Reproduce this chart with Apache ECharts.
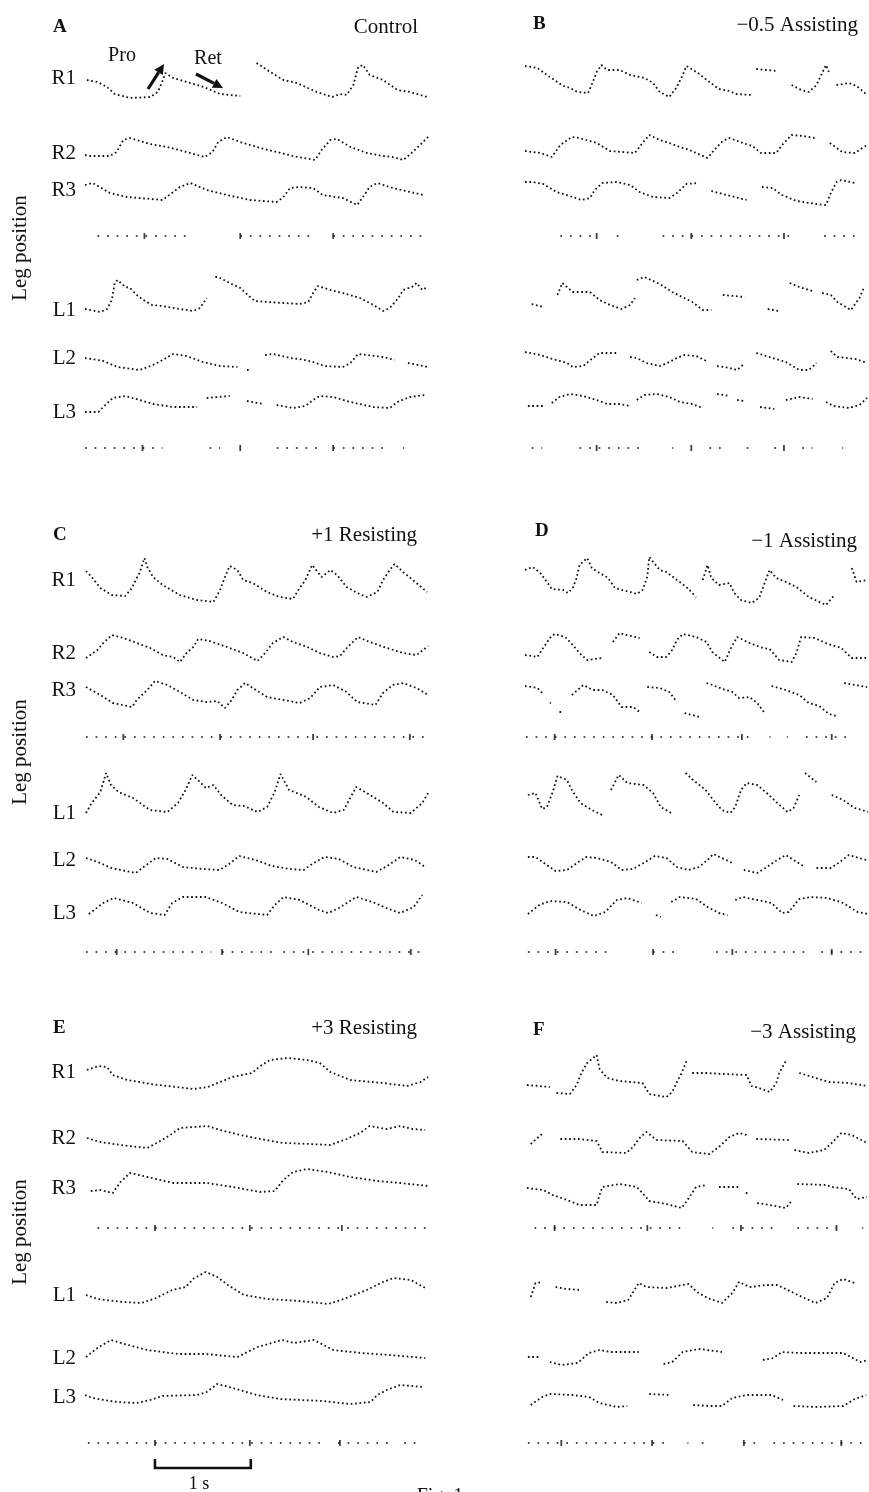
<!DOCTYPE html>
<html>
<head>
<meta charset="utf-8">
<script src="https://cdn.jsdelivr.net/npm/echarts/dist/echarts.min.js"></script>
<style>
  html, body { margin: 0; padding: 0; background: #ffffff; }
  #chart { width: 869px; height: 1492px; }
</style>
</head>
<body>
<div id="chart"></div>
<script>
// ---- Leg position traces: [time (s), position (a.u., up = positive)], null = tracking gap ----
// A  Control
const A_R1 = [[0.02,-2],[0.13,-4],[0.23,-9],[0.31,-16],[0.47,-20],[0.68,-19],[0.76,-14],[0.80,-5],[0.84,5],[0.92,0],[1.10,-5],[1.24,-9],[1.41,-16],[1.62,-18],null,[1.79,15],[1.90,8],[2.07,-2],[2.21,-5],[2.42,-14],[2.58,-19],[2.66,-16],[2.73,-17],[2.80,-7],[2.85,11],[2.90,13],[2.97,3],[3.11,-2],[3.26,-12],[3.39,-14],[3.57,-19]];
const A_R2 = [[0.00,-2],[0.05,-3],[0.26,-3],[0.33,1],[0.40,13],[0.47,15],[0.68,9],[0.86,6],[1.06,1],[1.25,-4],[1.33,1],[1.39,11],[1.48,16],[1.62,11],[1.83,5],[2.00,1],[2.17,-3],[2.40,-7],[2.47,3],[2.56,13],[2.63,14],[2.77,6],[2.94,0],[3.11,-3],[3.21,-4],[3.32,-7],[3.42,1],[3.58,16]];
const A_R3 = [[0.00,5],[0.08,7],[0.26,-3],[0.44,-7],[0.81,-10],[0.99,3],[1.10,7],[1.27,0],[1.48,-5],[1.72,-10],[2.00,-12],[2.07,-7],[2.14,2],[2.24,3],[2.38,2],[2.48,-5],[2.69,-8],[2.84,-15],[2.90,-7],[2.97,3],[3.05,7],[3.21,2],[3.53,-5]];
const A_L1 = [[0.00,1],[0.16,-2],[0.23,1],[0.28,10],[0.31,27],[0.34,30],[0.42,23],[0.47,22],[0.54,15],[0.61,10],[0.70,5],[0.81,4],[0.99,1],[1.13,-1],[1.20,2],[1.27,12],null,[1.36,33],[1.39,33],[1.51,27],[1.62,22],[1.70,15],[1.77,9],[1.90,8],[2.07,7],[2.24,6],[2.33,8],[2.38,17],[2.43,24],[2.56,20],[2.69,17],[2.87,12],[3.01,5],[3.11,-1],[3.18,2],[3.27,12],[3.32,20],[3.41,23],[3.46,27],[3.52,20],[3.57,23]];
const A_L2 = [[0.00,0],[0.19,-3],[0.34,-9],[0.57,-12],[0.71,-7],[0.81,-2],[0.92,4],[1.06,2],[1.23,-4],[1.41,-8],[1.59,-9],null,[1.69,-12],[1.71,-12],null,[1.88,3],[1.96,4],[2.14,0],[2.24,-1],[2.38,-4],[2.50,-8],[2.69,-9],[2.77,-5],[2.85,4],[2.94,3],[3.11,1],[3.23,-2],null,[3.37,-5],[3.58,-9]];
const A_L3 = [[0.00,0],[0.14,0],[0.19,5],[0.29,14],[0.42,16],[0.57,12],[0.71,8],[0.92,5],[1.17,5],null,[1.27,14],[1.51,16],null,[1.69,11],[1.86,8],null,[2.00,7],[2.17,4],[2.30,6],[2.38,12],[2.45,16],[2.59,15],[2.77,10],[3.01,5],[3.18,4],[3.26,10],[3.39,15],[3.55,17]];
// B  -0.5 Assisting
const B_R1 = [[0.00,12],[0.13,10],[0.26,1],[0.40,-8],[0.47,-10],[0.55,-14],[0.66,-15],[0.71,-4],[0.75,6],[0.80,13],[0.86,8],[0.99,8],[1.10,3],[1.25,0],[1.34,-5],[1.41,-14],[1.51,-19],[1.59,-9],[1.64,1],[1.69,12],[1.81,5],[1.93,-4],[2.03,-11],[2.14,-13],[2.21,-16],[2.37,-17],null,[2.42,9],[2.64,7],null,[2.79,-7],[2.89,-12],[2.97,-14],[3.05,-7],[3.10,3],[3.15,13],[3.18,6],null,[3.26,-7],[3.39,-5],[3.47,-8],[3.58,-17]];
const B_R2 = [[0.00,2],[0.16,0],[0.28,-4],[0.37,8],[0.49,16],[0.57,15],[0.75,10],[0.89,2],[1.15,0],[1.23,10],[1.30,18],[1.41,13],[1.51,10],[1.62,6],[1.72,3],[1.91,-5],[1.98,3],[2.07,12],[2.14,15],[2.28,10],[2.38,7],[2.47,0],[2.63,0],[2.69,8],[2.79,18],[2.91,17],[3.03,15],null,[3.19,10],[3.32,1],[3.45,0],[3.58,8]];
const B_R3 = [[0.00,8],[0.08,8],[0.19,6],[0.33,-2],[0.50,-7],[0.59,-10],[0.68,-8],[0.73,0],[0.81,7],[0.96,8],[1.10,5],[1.20,-2],[1.34,-7],[1.51,-8],[1.59,-3],[1.69,6],[1.81,7],null,[1.95,-1],[2.11,-5],[2.32,-10],null,[2.48,3],[2.59,2],[2.69,-5],[2.84,-11],[3.05,-14],[3.15,-15],[3.20,-3],[3.26,8],[3.31,10],[3.45,7]];
const B_L1 = [[0.07,6],[0.19,3],null,[0.34,15],[0.39,27],[0.50,18],[0.68,18],[0.78,10],[0.89,5],[1.01,1],[1.10,5],[1.15,12],null,[1.17,30],[1.25,33],[1.41,26],[1.54,18],[1.75,8],[1.86,0],[1.95,0],null,[2.07,15],[2.30,13],null,[2.54,1],[2.66,-1],null,[2.77,27],[2.87,23],[3.01,19],null,[3.11,17],[3.20,15],[3.27,8],[3.41,0],[3.50,12],[3.55,23]];
const B_L2 = [[0.00,6],[0.16,3],[0.29,-1],[0.44,-5],[0.50,-9],[0.61,-8],[0.71,0],[0.78,5],[0.97,5],null,[1.10,1],[1.17,0],[1.27,-5],[1.41,-8],[1.49,-5],[1.59,0],[1.67,3],[1.79,2],[1.90,-3],null,[2.01,-8],[2.14,-10],[2.22,-12],[2.30,-5],null,[2.42,5],[2.56,1],[2.73,-4],[2.87,-12],[2.97,-12],[3.05,-5],null,[3.20,7],[3.27,1],[3.46,-1],[3.58,-5]];
const B_L3 = [[0.03,6],[0.19,6],null,[0.28,9],[0.36,15],[0.47,18],[0.61,16],[0.75,12],[0.86,8],[0.99,8],[1.10,6],null,[1.17,12],[1.25,17],[1.38,18],[1.51,15],[1.62,10],[1.75,8],[1.86,4],null,[2.01,18],[2.14,16],null,[2.22,12],[2.30,11],null,[2.46,5],[2.61,3],null,[2.73,12],[2.87,15],[3.01,13],null,[3.15,10],[3.23,6],[3.39,4],[3.50,7],[3.58,14]];
// C  +1 Resisting
const C_R1 = [[0.01,9],[0.07,3],[0.16,-8],[0.28,-15],[0.42,-16],[0.49,-8],[0.54,2],[0.57,7],[0.62,22],[0.65,13],[0.71,3],[0.81,-5],[0.99,-15],[1.17,-20],[1.34,-22],[1.41,-10],[1.46,3],[1.51,14],[1.59,10],[1.65,0],[1.75,-3],[1.90,-12],[2.03,-17],[2.17,-19],[2.24,-8],[2.30,0],[2.37,15],[2.47,3],[2.56,10],[2.63,5],[2.73,-7],[2.84,-13],[2.94,-17],[3.05,-12],[3.11,0],[3.18,10],[3.23,16],[3.32,8],[3.42,0],[3.57,-12]];
const C_R2 = [[0.01,-5],[0.13,3],[0.19,10],[0.28,18],[0.40,15],[0.54,10],[0.68,5],[0.81,-2],[0.92,-4],[0.99,-9],[1.06,0],[1.13,6],[1.18,14],[1.30,12],[1.48,6],[1.65,0],[1.80,-8],[1.88,0],[1.96,10],[2.07,16],[2.17,11],[2.32,6],[2.45,0],[2.59,-4],[2.66,-3],[2.74,6],[2.85,16],[2.97,11],[3.15,5],[3.32,0],[3.46,-2],[3.58,7]];
const C_R3 = [[0.01,3],[0.16,-5],[0.29,-13],[0.49,-17],[0.54,-10],[0.65,0],[0.73,9],[0.86,5],[0.99,-2],[1.13,-10],[1.27,-12],[1.38,-11],[1.46,-18],[1.53,-10],[1.59,0],[1.67,7],[1.75,2],[1.90,-7],[2.07,-10],[2.24,-13],[2.35,-8],[2.45,3],[2.59,5],[2.73,-2],[2.84,-12],[3.03,-15],[3.11,-3],[3.21,5],[3.32,7],[3.46,2],[3.58,-5]];
const C_L1 = [[0.01,0],[0.07,10],[0.16,21],[0.22,40],[0.27,28],[0.35,21],[0.50,15],[0.68,3],[0.86,1],[0.97,10],[1.05,23],[1.12,38],[1.20,31],[1.26,25],[1.34,28],[1.42,18],[1.54,8],[1.66,7],[1.80,1],[1.90,6],[1.98,21],[2.04,39],[2.13,23],[2.31,16],[2.44,6],[2.59,0],[2.70,3],[2.83,26],[2.94,20],[3.11,10],[3.22,1],[3.40,0],[3.52,10],[3.58,20]];
const C_L2 = [[0.01,2],[0.16,-3],[0.27,-8],[0.53,-13],[0.61,-7],[0.74,2],[0.86,1],[1.02,-7],[1.23,-9],[1.40,-10],[1.49,-5],[1.61,4],[1.78,0],[1.95,-6],[2.13,-9],[2.28,-10],[2.37,-4],[2.50,3],[2.65,1],[2.80,-7],[3.04,-12],[3.17,-5],[3.29,3],[3.44,0],[3.55,-7]];
const C_L3 = [[0.04,-1],[0.19,10],[0.30,15],[0.50,10],[0.68,0],[0.83,-2],[0.91,10],[1.02,16],[1.26,16],[1.43,10],[1.61,1],[1.90,-2],[1.98,8],[2.07,16],[2.24,13],[2.44,3],[2.54,0],[2.65,5],[2.83,16],[3.00,11],[3.17,4],[3.29,0],[3.43,6],[3.52,18]];
// D  -1 Assisting
const D_R1 = [[0.00,10],[0.08,13],[0.16,7],[0.23,-2],[0.28,-9],[0.40,-10],[0.45,-13],[0.50,-8],[0.54,2],[0.57,15],[0.65,22],[0.70,12],[0.78,7],[0.87,2],[0.94,-8],[1.01,-10],[1.10,-12],[1.17,-14],[1.23,-10],[1.28,3],[1.30,23],[1.41,10],[1.48,8],[1.59,0],[1.69,-7],[1.79,-17],null,[1.86,0],[1.91,15],[1.95,2],[2.03,-5],[2.14,-3],[2.19,-13],[2.26,-20],[2.37,-23],[2.45,-18],[2.50,-5],[2.56,10],[2.63,2],[2.73,-2],[2.84,-7],[2.97,-17],[3.15,-25],[3.23,-16],null,[3.42,12],[3.47,-2],[3.58,0]];
const D_R2 = [[0.00,-2],[0.13,-4],[0.19,5],[0.26,15],[0.31,19],[0.42,16],[0.49,9],[0.57,0],[0.65,-7],[0.81,-5],null,[0.92,11],[0.99,20],[1.06,18],[1.20,15],null,[1.30,1],[1.38,-4],[1.48,-4],[1.54,3],[1.59,13],[1.65,19],[1.79,16],[1.90,11],[1.96,1],[2.09,-9],[2.16,6],[2.22,16],[2.35,10],[2.49,5],[2.56,4],[2.66,-7],[2.79,-9],[2.84,0],[2.89,16],[3.03,15],[3.17,9],[3.31,5],[3.42,-5],[3.58,-5]];
const D_R3 = [[0.00,4],[0.13,2],[0.18,-3],null,[0.26,-13],[0.27,-13],null,[0.36,-22],[0.40,-22],null,[0.49,-5],[0.61,5],[0.71,0],[0.81,0],[0.92,-5],[1.01,-17],[1.13,-17],[1.20,-22],null,[1.28,3],[1.41,2],[1.51,-2],[1.59,-12],null,[1.67,-23],[1.83,-27],null,[1.90,7],[1.96,5],[2.07,1],[2.17,-2],[2.24,-8],[2.35,-7],[2.43,-13],[2.50,-22],null,[2.58,4],[2.73,0],[2.87,-5],[2.97,-13],[3.08,-16],[3.18,-24],[3.26,-26],null,[3.34,7],[3.46,5],[3.58,3]];
const D_L1 = [[0.03,18],[0.11,20],[0.18,4],[0.23,6],[0.29,21],[0.34,37],[0.44,33],[0.49,23],[0.58,10],[0.70,3],[0.81,-2],null,[0.90,23],[0.98,38],[1.07,30],[1.24,28],[1.34,20],[1.42,6],[1.53,0],null,[1.68,40],[1.76,33],[1.89,23],[1.97,13],[2.06,3],[2.15,0],[2.20,6],[2.26,23],[2.32,30],[2.43,28],[2.53,20],[2.64,10],[2.75,1],[2.81,5],[2.87,18],null,[2.93,40],[3.05,31],null,[3.21,18],[3.33,13],[3.45,5],[3.59,1]];
const D_L2 = [[0.03,3],[0.11,3],[0.23,-5],[0.32,-11],[0.44,-10],[0.56,-2],[0.64,3],[0.75,2],[0.90,-2],[1.01,-10],[1.13,-9],[1.24,-3],[1.36,4],[1.48,2],[1.59,-7],[1.71,-10],[1.82,-7],[1.91,0],[1.97,6],[2.06,2],[2.17,-3],null,[2.29,-10],[2.43,-13],[2.53,-7],[2.64,0],[2.73,5],[2.81,0],[2.93,-7],null,[3.05,-8],[3.20,-8],[3.28,-3],[3.39,5],[3.57,0]];
const D_L3 = [[0.03,-1],[0.15,8],[0.26,12],[0.44,11],[0.58,3],[0.72,-3],[0.84,1],[0.96,13],[1.07,15],[1.22,10],null,[1.37,-2],[1.42,-4],null,[1.53,11],[1.62,16],[1.79,14],[1.91,6],[2.03,0],[2.12,-2],null,[2.20,13],[2.28,16],[2.43,13],[2.58,10],[2.69,0],[2.76,1],[2.87,14],[2.99,16],[3.16,15],[3.33,10],[3.48,1],[3.59,-1]];
// E  +3 Resisting
const E_R1 = [[0.02,2],[0.14,6],[0.23,5],[0.29,-3],[0.44,-8],[0.68,-12],[0.96,-15],[1.13,-17],[1.28,-15],[1.41,-10],[1.54,-5],[1.74,-1],[1.83,6],[1.93,12],[2.11,14],[2.32,12],[2.45,9],[2.56,0],[2.77,-8],[3.11,-11],[3.36,-14],[3.50,-10],[3.58,-5]];
const E_R2 = [[0.02,0],[0.16,-4],[0.37,-7],[0.65,-10],[0.75,-5],[0.89,3],[0.99,10],[1.13,11],[1.28,12],[1.41,8],[1.62,3],[1.83,-1],[2.07,-5],[2.35,-6],[2.56,-7],[2.73,-1],[2.87,5],[2.97,12],[3.15,9],[3.29,12],[3.42,9],[3.55,8]];
const E_R3 = [[0.06,-3],[0.16,-2],[0.29,-5],[0.37,6],[0.47,15],[0.65,11],[0.92,5],[1.27,5],[1.54,1],[1.83,-4],[1.98,-3],[2.07,8],[2.17,16],[2.32,19],[2.53,16],[2.77,11],[3.05,7],[3.29,5],[3.58,2]];
const E_L1 = [[0.01,0],[0.13,-4],[0.39,-7],[0.59,-8],[0.74,-3],[0.91,5],[1.05,8],[1.14,17],[1.26,23],[1.38,18],[1.49,10],[1.66,0],[1.90,-4],[2.24,-6],[2.54,-9],[2.70,-4],[2.94,5],[3.11,13],[3.22,17],[3.40,15],[3.55,7]];
const E_L2 = [[0.01,1],[0.13,10],[0.27,18],[0.45,13],[0.65,8],[0.97,4],[1.26,4],[1.59,1],[1.80,11],[2.06,18],[2.18,15],[2.39,18],[2.59,8],[2.88,5],[3.17,3],[3.55,0]];
const E_L3 = [[0.00,2],[0.08,-1],[0.33,-5],[0.54,-6],[0.68,-3],[0.81,1],[1.17,2],[1.27,5],[1.38,13],[1.54,9],[1.79,2],[2.03,-2],[2.48,-4],[2.77,-7],[2.98,-5],[3.05,2],[3.15,7],[3.29,12],[3.53,10]];
// F  -3 Assisting
const F_R1 = [[0.02,-13],[0.26,-15],null,[0.33,-21],[0.47,-22],[0.54,-13],[0.59,-1],[0.65,9],[0.75,17],[0.78,3],[0.86,-6],[0.99,-9],[1.23,-11],[1.30,-22],[1.48,-25],[1.54,-20],[1.60,-8],[1.64,-1],[1.69,11],null,[1.75,-1],[1.90,-1],[2.07,-2],[2.32,-3],[2.37,-14],[2.45,-16],[2.56,-20],[2.63,-11],[2.66,-1],[2.73,11],null,[2.87,-1],[3.01,-5],[3.18,-10],[3.39,-11],[3.58,-14]];
const F_R2 = [[0.06,-6],[0.13,0],[0.19,5],null,[0.37,-1],[0.57,-1],[0.75,-3],[0.81,-14],[1.06,-15],[1.13,-9],[1.20,0],[1.27,6],[1.38,-2],[1.65,-3],[1.75,-14],[1.93,-16],[2.03,-9],[2.14,1],[2.24,5],[2.32,3],null,[2.42,-1],[2.77,-2],null,[2.82,-12],[2.97,-15],[3.13,-12],[3.21,-5],[3.31,5],[3.42,3],[3.58,-5]];
const F_R3 = [[0.02,0],[0.19,-2],[0.29,-7],[0.44,-12],[0.57,-17],[0.75,-17],[0.78,-7],[0.81,1],[0.99,4],[1.17,1],[1.23,-5],[1.30,-13],[1.48,-16],[1.64,-20],[1.70,-12],[1.79,1],[1.90,3],null,[2.03,1],[2.24,1],null,[2.31,-5],[2.33,-5],null,[2.43,-15],[2.56,-17],[2.73,-20],[2.79,-13],null,[2.85,4],[3.15,3],[3.21,1],[3.39,-1],[3.47,-11],[3.58,-9]];
const F_L1 = [[0.06,-2],[0.11,12],[0.18,13],null,[0.32,8],[0.44,6],[0.58,5],null,[0.85,-7],[0.96,-8],[1.08,-5],[1.19,12],[1.27,8],[1.48,7],[1.71,11],[1.80,3],[1.91,-3],[2.06,-8],[2.17,2],[2.24,13],[2.35,8],[2.53,10],[2.64,10],[2.75,5],[2.90,-2],[3.04,-8],[3.16,-3],[3.24,12],[3.33,16],[3.45,12]];
const F_L2 = [[0.03,1],[0.15,1],null,[0.26,-4],[0.38,-7],[0.55,-5],[0.67,5],[0.78,8],[0.90,6],[1.19,6],null,[1.45,-6],[1.54,-4],[1.65,6],[1.83,9],[2.06,6],null,[2.49,-2],[2.60,0],[2.69,6],[2.87,5],[3.33,5],[3.51,-4],[3.59,-2]];
const F_L3 = [[0.06,-8],[0.18,0],[0.26,3],[0.49,2],[0.67,0],[0.78,-6],[0.96,-10],[1.07,-9],null,[1.30,3],[1.53,2],null,[1.76,-8],[1.94,-9],[2.06,-9],[2.17,-1],[2.32,2],[2.58,2],[2.70,-3],null,[2.81,-9],[3.05,-10],[3.33,-9],[3.45,-2],[3.57,2]];

// ---- Stance markers: dotted runs [start, end] (s) and 1 s ticks ----
const A_TOP = { runs: [[0.13,1.07],[1.62,2.40],[2.59,3.52]], ticks: [0.62,1.62,2.59] };
const A_BOT = { runs: [[0.00,0.81],[1.30,1.41],[2.00,2.42],[2.59,3.11],[3.32,3.33]], ticks: [0.60,1.62,2.59] };
const B_TOP = { runs: [[0.37,0.75],[0.96,1.06],[1.44,2.82],[3.13,3.52]], ticks: [0.75,1.74,2.71] };
const B_BOT = { runs: [[0.07,0.18],[0.57,1.23],[1.54,1.55],[1.93,2.12],[2.32,2.42],[2.61,2.71],[2.90,3.01],[3.32,3.33]], ticks: [0.75,1.74,2.71] };
const C_TOP = { runs: [[0.01,3.58]], ticks: [0.40,1.41,2.38,3.39] };
const C_BOT = { runs: [[0.01,1.32],[1.43,1.96],[2.07,3.52]], ticks: [0.33,1.43,2.33,3.40] };
const D_TOP = { runs: [[0.01,2.42],[2.56,2.57],[2.74,2.75],[2.94,3.42]], ticks: [0.31,1.33,2.27,3.21] };
const D_BOT = { runs: [[0.03,0.90],[1.34,1.60],[2.00,2.93],[3.10,3.59]], ticks: [0.32,1.34,2.17,3.21] };
const E_TOP = { runs: [[0.13,3.58]], ticks: [0.73,1.72,2.68] };
const E_BOT = { runs: [[0.03,2.52],[2.64,3.20],[3.33,3.53]], ticks: [0.73,1.72,2.66] };
const F_TOP = { runs: [[0.10,1.69],[1.96,1.97],[2.17,2.66],[2.85,3.26],[3.53,3.54]], ticks: [0.31,1.28,2.26,3.26] };
const F_BOT = { runs: [[0.03,1.50],[1.70,1.71],[1.85,1.95],[2.29,2.45],[2.60,3.59]], ticks: [0.38,1.33,2.29,3.31] };

// ---- Labels ----
const PANEL_LETTERS = ['A','B','C','D','E','F'];
const CONDITIONS = ['Control','\u22120.5 Assisting','+1 Resisting','\u22121 Assisting','+3 Resisting','\u22123 Assisting'];
const LEG_NAMES = ['R1','R2','R3','L1','L2','L3'];
const SCALE_BAR_T = [0.73, 1.73];   // 1 s calibration bar

// ---- Layout ----
const INK = '#111111';
const SERIF = '"Liberation Serif", "DejaVu Serif", serif';
const T_MAX = 3.6;
const PLOT_W = 345;
const COL_LEFT = [85, 525];
const TRACE_BASE = [[78,153,190,310,358,412],[580,653,690,813,860,913],[1072,1138,1188,1295,1358,1397]];
const MARKER_Y = [[236,448],[737,952],[1228,1443]];
const LETTER_POS = [[53,27],[533,24],[53,535],[535,531],[53,1028],[533,1030]];
const TITLE_POS = [[418,27],[858,25],[417,535],[857,541],[417,1028],[856,1032]];
const LEG_LABEL_Y = [248, 752, 1232];

const PANEL_TRACES = [
  [A_R1,A_R2,A_R3,A_L1,A_L2,A_L3],
  [B_R1,B_R2,B_R3,B_L1,B_L2,B_L3],
  [C_R1,C_R2,C_R3,C_L1,C_L2,C_L3],
  [D_R1,D_R2,D_R3,D_L1,D_L2,D_L3],
  [E_R1,E_R2,E_R3,E_L1,E_L2,E_L3],
  [F_R1,F_R2,F_R3,F_L1,F_L2,F_L3]
];
const PANEL_MARKERS = [[A_TOP,A_BOT],[B_TOP,B_BOT],[C_TOP,C_BOT],[D_TOP,D_BOT],[E_TOP,E_BOT],[F_TOP,F_BOT]];

const grids = [], xAxes = [], yAxes = [], series = [];

function addGrid(left, top, height, yMin, yMax) {
  const i = grids.length;
  grids.push({ left: left, top: top, width: PLOT_W, height: height, containLabel: false });
  xAxes.push({ type: 'value', gridIndex: i, min: 0, max: T_MAX, show: false });
  yAxes.push({ type: 'value', gridIndex: i, min: yMin, max: yMax, show: false });
  return i;
}

const common = { animation: false, silent: true, clip: false };

PANEL_TRACES.forEach(function (traces, p) {
  const row = Math.floor(p / 2), col = p % 2;
  const left = COL_LEFT[col];
  traces.forEach(function (tr, k) {
    const base = TRACE_BASE[row][k];
    const g = addGrid(left, base - 50, 100, -50, 50);
    series.push(Object.assign({
      type: 'line', xAxisIndex: g, yAxisIndex: g,
      data: tr.map(function (pt) { return pt === null ? ['-', '-'] : pt; }),
      symbol: 'none', connectNulls: false,
      lineStyle: { color: INK, width: 1.8, type: [1.7, 2.7], cap: 'butt' }
    }, common));
  });
  PANEL_MARKERS[p].forEach(function (m, j) {
    const y = MARKER_Y[row][j];
    const g = addGrid(left, y - 10, 20, -10, 10);
    const pts = [];
    m.runs.forEach(function (r) { pts.push([r[0], 0], [r[1], 0], ['-', '-']); });
    series.push(Object.assign({
      type: 'line', xAxisIndex: g, yAxisIndex: g, data: pts, symbol: 'none',
      lineStyle: { color: INK, width: 1.7, type: [1.7, 7.9], cap: 'butt' }
    }, common));
    series.push(Object.assign({
      type: 'scatter', xAxisIndex: g, yAxisIndex: g,
      data: m.ticks.map(function (t) { return [t, 0]; }),
      symbol: 'rect', symbolSize: [1.8, 6], itemStyle: { color: INK }
    }, common));
  });
});

// 1 s calibration bracket under panel E
const gBar = addGrid(COL_LEFT[0], 1456, 12, 0, 12);
series.push(Object.assign({
  type: 'line', xAxisIndex: gBar, yAxisIndex: gBar, symbol: 'none',
  data: [[SCALE_BAR_T[0], 9], [SCALE_BAR_T[0], 0], [SCALE_BAR_T[1], 0], [SCALE_BAR_T[1], 9]],
  lineStyle: { color: INK, width: 2.6, type: 'solid', join: 'miter' }
}, common));

// ---- Text and annotation graphics ----
const graphics = [];
function text(x, y, str, size, align, extra) {
  return Object.assign({
    type: 'text', x: x, y: y, silent: true,
    style: {
      text: str, fill: INK, font: size + 'px ' + SERIF,
      textAlign: align, textVerticalAlign: 'middle', align: align, verticalAlign: 'middle'
    }
  }, extra || {});
}
PANEL_LETTERS.forEach(function (l, p) {
  const g = text(LETTER_POS[p][0], LETTER_POS[p][1], l, 19, 'left');
  g.style.font = 'bold 19px ' + SERIF;
  graphics.push(g);
  graphics.push(text(TITLE_POS[p][0], TITLE_POS[p][1], CONDITIONS[p], 21, 'right'));
});
for (let row = 0; row < 3; row++) {
  LEG_NAMES.forEach(function (n, k) {
    graphics.push(text(76, TRACE_BASE[row][k], n, 21, 'right'));
  });
  graphics.push(text(20, LEG_LABEL_Y[row], 'Leg position', 21, 'center', { rotation: Math.PI / 2 }));
}
graphics.push(text(122, 56, 'Pro', 20, 'center'));
graphics.push(text(208, 59, 'Ret', 20, 'center'));
graphics.push(text(199, 1484, '1 s', 18, 'center'));
const fig = text(440, 1487, 'Fig. 1', 20, 'center');
fig.style.textVerticalAlign = 'top'; fig.style.verticalAlign = 'top';
graphics.push(fig);

function arrow(x1, y1, x2, y2) {
  const dx = x2 - x1, dy = y2 - y1, len = Math.hypot(dx, dy);
  const ux = dx / len, uy = dy / len, hl = 10, hw = 5;
  const bx = x2 - ux * hl, by = y2 - uy * hl;
  graphics.push({ type: 'line', silent: true, shape: { x1: x1, y1: y1, x2: bx, y2: by }, style: { stroke: INK, lineWidth: 3.2 } });
  graphics.push({ type: 'polygon', silent: true, shape: { points: [[x2, y2], [bx - uy * hw, by + ux * hw], [bx + uy * hw, by - ux * hw]] }, style: { fill: INK } });
}
arrow(148, 89, 164, 64);
arrow(196, 74, 223, 88);

const chart = echarts.init(document.getElementById('chart'), null, { renderer: 'canvas' });
chart.setOption({
  backgroundColor: '#ffffff',
  animation: false,
  grid: grids,
  xAxis: xAxes,
  yAxis: yAxes,
  series: series,
  graphic: graphics
});
</script>
</body>
</html>
